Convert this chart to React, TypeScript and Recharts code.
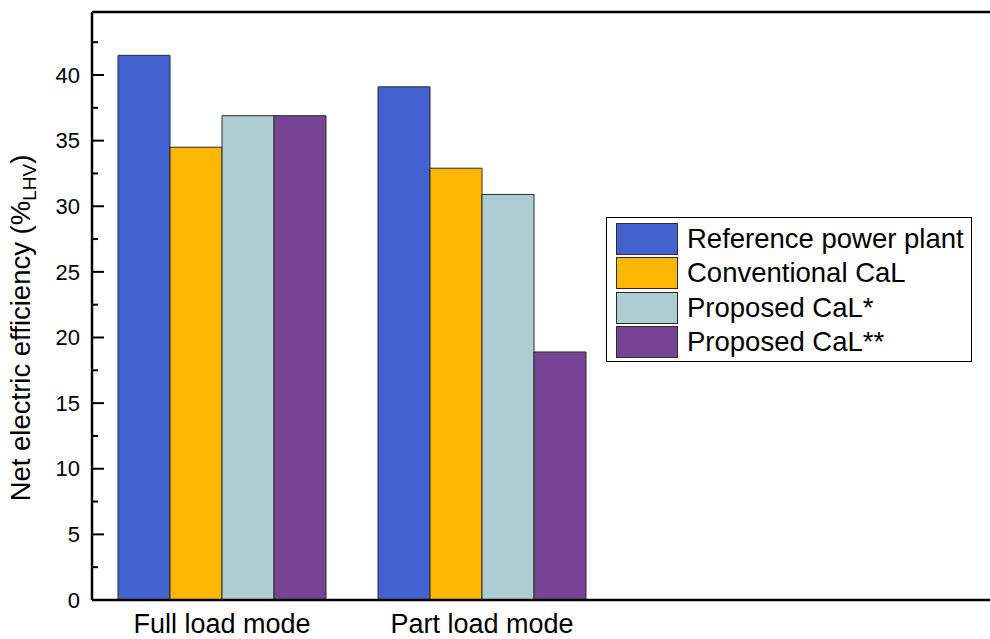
import React from "react";
import {
  BarChart,
  Bar,
  XAxis,
  YAxis,
  ReferenceLine,
} from "recharts";

const modes = ["Full load mode", "Part load mode"];
const referencePlant = [41.5, 39.1];
const conventionalCaL = [34.5, 32.9];
const proposedCaL1 = [36.9, 30.9];
const proposedCaL2 = [36.9, 18.9];

const yTicks = [0, 2.5, 5, 7.5, 10, 12.5, 15, 17.5, 20, 22.5, 25, 27.5, 30, 32.5, 35, 37.5, 40, 42.5];

// note: "ref" can't be used as a data key, recharts spreads entries onto the shapes
const SERIES = [
  { key: "refPlant", name: "Reference power plant", color: "#4361CF" },
  { key: "conv", name: "Conventional CaL", color: "#FDB702" },
  { key: "prop1", name: "Proposed CaL*", color: "#ADCDD3" },
  { key: "prop2", name: "Proposed CaL**", color: "#774495" },
];

const data = modes.map((mode, i) => ({
  mode,
  refPlant: referencePlant[i],
  conv: conventionalCaL[i],
  prop1: proposedCaL1[i],
  prop2: proposedCaL2[i],
}));

const FONT = "'Liberation Sans', Arial, sans-serif";

function renderYTick(props: any) {
  const { x, y, payload } = props;
  const major = payload.value % 5 === 0;
  return (
    <g key={`t-${payload.value}`}>
      <line x1={x + 12} x2={x + 12 + (major ? 12 : 6)} y1={y} y2={y} stroke="#000" strokeWidth={2} />
      {major && (
        <text x={x} y={y} dy="0.35em" textAnchor="end" fontSize={22} fontFamily={FONT} fill="#000">
          {payload.value}
        </text>
      )}
    </g>
  );
}

function renderYLabel() {
  return (
    <text
      transform="translate(30, 328) rotate(-90)"
      textAnchor="middle"
      fontSize={27.5}
      fontFamily={FONT}
      fill="#000"
    >
      Net electric efficiency (%
      <tspan fontSize={19} dy={6}>LHV</tspan>
      <tspan dy={-6}>)</tspan>
    </text>
  );
}

function LegendBox() {
  return (
    <div
      style={{
        position: "absolute",
        left: 606,
        top: 217,
        width: 355,
        border: "1.5px solid #000",
        background: "#fff",
        padding: "4px 0 2px 9px",
        fontFamily: FONT,
      }}
    >
      {SERIES.map((s) => (
        <div key={s.key} style={{ display: "flex", alignItems: "center", height: 34.3 }}>
          <div
            style={{
              width: 60,
              height: 30,
              background: s.color,
              border: "1px solid #2b2b2b",
              marginRight: 9,
            }}
          />
          <span style={{ fontSize: 27.5, color: "#000", lineHeight: "30px" }}>{s.name}</span>
        </div>
      ))}
    </div>
  );
}

export default function App() {
  return (
    <div
      style={{
        position: "fixed",
        left: 0,
        top: 0,
        width: 990,
        height: 639,
        overflow: "hidden",
        background: "#fff",
      }}
    >
      <BarChart
        width={1020}
        height={639}
        data={data}
        margin={{ top: 12, right: 20, left: 0, bottom: 0 }}
        barCategoryGap={26}
        barGap={0}
      >
        <XAxis
          dataKey="mode"
          height={39}
          padding={{ left: 0, right: 388 }}
          axisLine={{ stroke: "#000", strokeWidth: 2.5 }}
          tickLine={false}
          tickSize={0}
          tickMargin={14}
          tick={{ fontSize: 27, fill: "#000", fontFamily: FONT }}
        />
        <YAxis
          width={92}
          domain={[0, 44.8]}
          ticks={yTicks}
          interval={0}
          allowDataOverflow
          axisLine={{ stroke: "#000", strokeWidth: 2.5 }}
          tickLine={false}
          tickSize={0}
          tickMargin={12}
          tick={renderYTick}
          label={{ content: renderYLabel }}
        />
        <ReferenceLine y={44.8} stroke="#000" strokeWidth={2.5} ifOverflow="visible" />
        {SERIES.map((s) => (
          <Bar
            key={s.key}
            dataKey={s.key}
            name={s.name}
            fill={s.color}
            stroke="#2b2b2b"
            strokeWidth={1}
            isAnimationActive={false}
          />
        ))}
      </BarChart>
      <LegendBox />
    </div>
  );
}
